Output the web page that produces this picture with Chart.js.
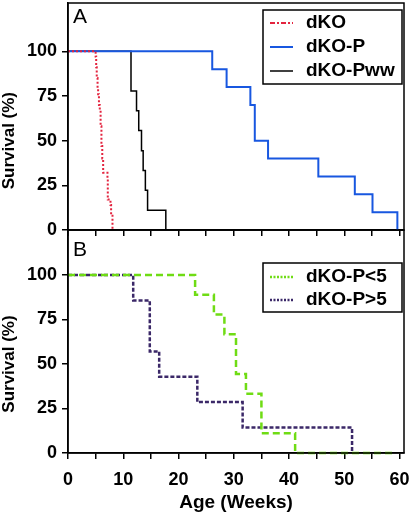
<!DOCTYPE html>
<html>
<head>
<meta charset="utf-8">
<script src="https://cdn.jsdelivr.net/npm/chart.js@4.4.0/dist/chart.umd.min.js"></script>
<style>
  html, body { margin: 0; padding: 0; background: #fff; }
  #wrap { position: relative; width: 410px; height: 519px; }
  #chartA { position: absolute; left: 0; top: 0; }
  #chartB { position: absolute; left: 0; top: 230px; }
</style>
</head>
<body>
<div id="wrap">
  <canvas id="chartA" width="410" height="240"></canvas>
  <canvas id="chartB" width="410" height="289"></canvas>
</div>
<script>
// axis ticks
const xTicks = [0, 5, 10, 15, 20, 25, 30, 35, 40, 45, 50, 55, 60];
const xLabels = ['0', '', '10', '', '20', '', '30', '', '40', '', '50', '', '60'];
const yTicks = [0, 25, 50, 75, 100];

// panel A
const dkoWeeks = [0, 5.0, 5.1, 5.2, 5.35, 5.45, 5.6, 5.75, 5.9, 6.05, 6.2, 6.36, 7.14, 7.2, 7.69, 7.8, 8.05];
const dkoSurv = [100, 97, 91, 85, 79, 76, 70, 67, 58, 47, 40, 32, 29, 17, 14, 8, 0];

const dkoPWeeks = [0, 26.1, 28.7, 33.0, 33.8, 36.2, 45.3, 51.9, 55.1, 59.6];
const dkoPSurv = [100, 90, 80, 70, 50, 40, 30, 20, 10, 0];

const dkoPwwWeeks = [0, 11.4, 12.4, 12.8, 13.3, 13.6, 14.0, 14.4, 17.7];
const dkoPwwSurv = [100, 77.8, 66.7, 55.6, 44.4, 33.3, 22.2, 11.1, 0];

// panel B
const lt5Weeks = [0, 23.0, 26.4, 28.3, 30.4, 32.2, 35.0, 41.1, 59.0];
const lt5Surv = [100, 88.9, 77.8, 66.7, 44.4, 33.3, 11.1, 0, 0];

const gt5Weeks = [0, 11.8, 14.8, 16.5, 23.4, 31.6, 51.4];
const gt5Surv = [100, 85.7, 57.1, 42.9, 28.6, 14.3, 0];

const toPts = (xs, ys) => xs.map((x, i) => ({ x: x, y: ys[i] }));

const FONT = '"Liberation Sans", Arial, Helvetica, sans-serif';

const panelDeco = {
  id: 'panelDeco',
  afterDraw(chart, args, opts) {
    const ctx = chart.ctx;
    const area = chart.chartArea;
    const ys = chart.scales.y;
    ctx.save();
    // frame
    ctx.strokeStyle = '#000';
    ctx.lineWidth = 1.5;
    ctx.strokeRect(area.left, area.top, area.right - area.left, area.bottom - area.top);

    // legend box
    ctx.strokeRect(opts.x, opts.y, opts.w, opts.h);
    chart.data.datasets.forEach((ds, i) => {
      const yy = opts.y + opts.first + i * opts.gap;
      ctx.beginPath();
      ctx.setLineDash(ds.legendDash || ds.borderDash || []);
      ctx.strokeStyle = ds.borderColor;
      ctx.lineWidth = ds.borderWidth;
      ctx.moveTo(opts.x + 7, yy);
      ctx.lineTo(opts.x + 30, yy);
      ctx.stroke();
      ctx.setLineDash([]);
      ctx.fillStyle = '#000';
      ctx.font = 'bold 19px ' + FONT;
      ctx.textBaseline = 'middle';
      ctx.textAlign = 'left';
      ctx.fillText(ds.label, opts.x + 43, yy);
    });

    // panel letter
    ctx.fillStyle = '#000';
    ctx.font = '21px ' + FONT;
    ctx.textBaseline = 'top';
    ctx.fillText(opts.letter, area.left + 5, opts.letterY);

    // y title, centred on the 0-100 range
    const cy = (ys.getPixelForValue(0) + ys.getPixelForValue(100)) / 2;
    ctx.translate(9, cy);
    ctx.rotate(-Math.PI / 2);
    ctx.font = 'bold 17px ' + FONT;
    ctx.textAlign = 'center';
    ctx.textBaseline = 'middle';
    ctx.fillText('Survival (%)', 0, 0);
    ctx.restore();
  }
};

function makeOptions(yMax, showX, bottomH, deco) {
  return {
    responsive: false,
    animation: false,
    devicePixelRatio: 1,
    layout: { padding: { left: 0, right: 6, top: deco.top, bottom: 0 } },
    elements: { point: { radius: 0 }, line: { tension: 0 } },
    plugins: {
      legend: { display: false },
      tooltip: { enabled: false },
      panelDeco: deco
    },
    scales: {
      x: {
        type: 'linear',
        min: 0,
        max: 60.8,
        afterBuildTicks: s => { s.ticks = xTicks.map(v => ({ value: v })); },
        afterFit: s => { s.height = bottomH; s.paddingLeft = 0; s.paddingRight = 0; },
        ticks: {
          display: showX,
          autoSkip: false,
          maxRotation: 0,
          padding: 10,
          color: '#000',
          font: { family: FONT, size: 18, weight: 'bold' },
          callback: v => xLabels[xTicks.indexOf(v)]
        },
        grid: { drawOnChartArea: false, tickLength: 6, color: '#000', lineWidth: 1.5 },
        border: { color: '#000', width: 1.5 },
        title: {
          display: showX,
          text: 'Age (Weeks)',
          color: '#000',
          font: { family: FONT, size: 19, weight: 'bold' },
          padding: { top: 0, bottom: 5 }
        }
      },
      y: {
        min: 0,
        max: yMax,
        afterBuildTicks: s => { s.ticks = yTicks.map(v => ({ value: v })); },
        afterFit: s => { s.width = 68; s.paddingTop = 0; s.paddingBottom = 0; },
        ticks: {
          padding: 5,
          color: '#000',
          font: { family: FONT, size: 18, weight: 'bold' }
        },
        grid: { drawOnChartArea: false, tickLength: 6, color: '#000', lineWidth: 1.5 },
        border: { color: '#000', width: 1.5 }
      }
    }
  };
}

new Chart(document.getElementById('chartA'), {
  type: 'line',
  data: {
    datasets: [
      {
        label: 'dKO',
        data: toPts(dkoWeeks, dkoSurv),
        stepped: true,
        borderColor: '#e3243f',
        borderWidth: 2,
        borderDash: [2, 2],
        legendDash: [5, 2, 2, 2],
        clip: false
      },
      {
        label: 'dKO-P',
        data: toPts(dkoPWeeks, dkoPSurv),
        stepped: true,
        borderColor: '#1857e0',
        borderWidth: 2,
        clip: false
      },
      {
        label: 'dKO-Pww',
        data: toPts(dkoPwwWeeks, dkoPwwSurv),
        stepped: true,
        borderColor: '#000',
        borderWidth: 1.5,
        clip: false
      }
    ]
  },
  options: makeOptions(127, false, 10, {
    top: 3, x: 263, y: 10, w: 139, h: 74, first: 13, gap: 24, letter: 'A', letterY: 7
  }),
  plugins: [panelDeco]
});

new Chart(document.getElementById('chartB'), {
  type: 'line',
  data: {
    datasets: [
      {
        label: 'dKO-P<5',
        data: toPts(lt5Weeks, lt5Surv),
        stepped: true,
        borderColor: '#6fdc14',
        borderWidth: 2.5,
        borderDash: [7, 4],
        legendDash: [2, 1.5],
        clip: false
      },
      {
        label: 'dKO-P>5',
        data: toPts(gt5Weeks, gt5Surv),
        stepped: true,
        borderColor: '#3b2868',
        borderWidth: 2.5,
        borderDash: [4, 2],
        legendDash: [2, 1.5],
        clip: false
      }
    ]
  },
  options: makeOptions(125.3, true, 66, {
    top: 0, x: 263, y: 33, w: 139, h: 49, first: 14, gap: 23, letter: 'B', letterY: 10
  }),
  plugins: [panelDeco]
});
</script>
</body>
</html>
